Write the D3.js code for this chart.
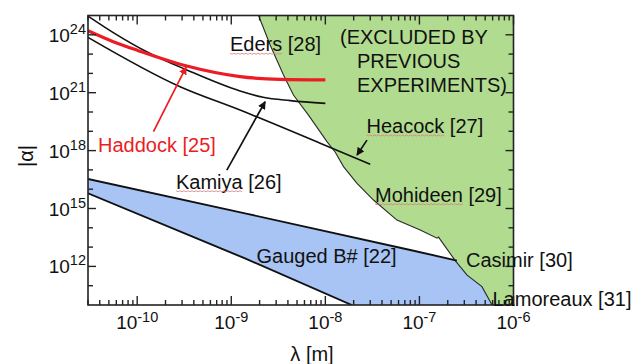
<!DOCTYPE html>
<html><head><meta charset="utf-8">
<script src="https://cdn.jsdelivr.net/npm/d3@7/dist/d3.min.js"></script>
<style>
body{margin:0;background:#fff}
svg{display:block}
text{font-family:"Liberation Sans",Arial,Helvetica,sans-serif;fill:#111}
</style>
</head><body>
<svg id="chart" width="634" height="364"></svg>
<script>
// ---------- data ----------
const xDomain = [3e-11, 1e-6];      // lambda [m]
const yDomain = [1e10, 1e25];       // |alpha|
const xTickLabels = [1e-10, 1e-9, 1e-8, 1e-7, 1e-6];
const yTickLabels = [1e12, 1e15, 1e18, 1e21, 1e24];

const haddockLambda = [3e-11, 5.57e-11, 1.03e-10, 3.37e-10, 1.24e-9, 3.31e-9, 1e-8];
const haddockAlpha  = [1.62e24, 4.4e23, 1.51e23, 2.4e22, 6.8e21, 4.9e21, 4.6e21];

const kamiyaLambda = [3e-11, 5.57e-11, 1.26e-10, 3.37e-10, 1.24e-9, 2.18e-9, 4.23e-9, 1e-8];
const kamiyaAlpha  = [9.3e24, 1.29e24, 1.32e23, 1.51e22, 1.23e21, 5.8e20, 3.9e20, 2.8e20];

const heacockLambda = [3e-11, 2.86e-10, 1.24e-9, 8.81e-9, 3.0e-8];
const heacockAlpha  = [7.4e23, 2.04e21, 1.26e20, 2.4e18, 1.95e17];

// boundary of the region excluded by previous experiments (Eders/Mohideen/Casimir/Lamoreaux)
const excludedLambda = [1.95e-9, 2.59e-9, 3.59e-9, 4.58e-9, 6.62e-9, 1.04e-8, 1.27e-8, 1.56e-8,
                        2.17e-8, 3.25e-8, 5.77e-8, 1.02e-7, 1.54e-7, 1.60e-7, 1.66e-7, 2.40e-7,
                        3.21e-7, 4.62e-7, 5.92e-7];
const excludedAlpha  = [1e25, 2.95e23, 8.3e21, 7.6e20, 6.9e19, 2.9e18, 8.5e17, 1.48e17,
                        2.0e16, 2.75e15, 2.5e14, 7.8e13, 2.9e13, 3.3e13, 2.5e13, 2.0e12,
                        3.5e11, 8.9e10, 1e10];

// gauged B# band
const gaugedUpperLambda = [3e-11, 1.40e-9, 8.0e-8, 2.5e-7];
const gaugedUpperAlpha  = [3.4e16, 5.6e14, 7.1e12, 2.0e12];
const gaugedLowerLambda = [3e-11, 1.40e-9, 1.91e-8];
const gaugedLowerAlpha  = [6.1e15, 2.6e12, 1e10];

// arrows: [fromLambda, fromAlpha, toLambda, toAlpha]
const haddockArrow = [1.49e-10, 9.5e18, 3.31e-10, 2.1e22];
const kamiyaArrow  = [8.97e-10, 9.8e16, 2.29e-9, 3.4e20];
const heacockArrow = [2.77e-8, 3.5e18, 2.17e-8, 5.9e17];

// ---------- layout ----------
const P = {l: 88, r: 513.5, t: 15.5, b: 305};
const RED = "#ec1c24", GREEN = "#b1dc8f", BLUE = "#a7c4f4";

const svg = d3.select("#chart");
const x = d3.scaleLog().domain(xDomain).range([P.l, P.r]);
const y = d3.scaleLog().domain(yDomain).range([P.b, P.t]);
const zip = (a, b) => a.map((v, i) => [v, b[i]]);
const line = d3.line().x(d => x(d[0])).y(d => y(d[1]));

svg.append("clipPath").attr("id", "plotclip").append("rect")
  .attr("x", P.l).attr("y", P.t).attr("width", P.r - P.l).attr("height", P.b - P.t);
const g = svg.append("g").attr("clip-path", "url(#plotclip)");

// blue band (extended to the right, the excluded region covers the excess)
const up = zip(gaugedUpperLambda, gaugedUpperAlpha);
const lo = zip(gaugedLowerLambda, gaugedLowerAlpha);
const bandPoly = up.concat([[xDomain[1], gaugedUpperAlpha[gaugedUpperAlpha.length - 1]],
                            [xDomain[1], yDomain[0]]], lo.slice().reverse());
g.append("path").attr("d", line(bandPoly) + "Z").attr("fill", BLUE).attr("stroke", "none");

// green excluded region
const ex = zip(excludedLambda, excludedAlpha);
const exPoly = ex.concat([[xDomain[1], yDomain[0]], [xDomain[1], yDomain[1]]]);
g.append("path").attr("d", line(exPoly) + "Z").attr("fill", GREEN).attr("stroke", "none");
g.append("path").attr("d", line(ex)).attr("fill", "none").attr("stroke", "#2a2a2a").attr("stroke-width", 1.1);

// band edges
g.append("path").attr("d", line(up)).attr("fill", "none").attr("stroke", "#111").attr("stroke-width", 1.9);
g.append("path").attr("d", line(lo)).attr("fill", "none").attr("stroke", "#111").attr("stroke-width", 1.9);

// curves
const curve = d3.line().x(d => x(d[0])).y(d => y(d[1])).curve(d3.curveMonotoneX);
g.append("path").attr("d", curve(zip(kamiyaLambda, kamiyaAlpha))).attr("fill", "none").attr("stroke", "#111").attr("stroke-width", 1.6);
g.append("path").attr("d", curve(zip(heacockLambda, heacockAlpha))).attr("fill", "none").attr("stroke", "#111").attr("stroke-width", 1.6);
g.append("path").attr("d", curve(zip(haddockLambda, haddockAlpha))).attr("fill", "none").attr("stroke", RED).attr("stroke-width", 3.2);

// arrow markers
const defs = svg.append("defs");
function marker(id, color) {
  defs.append("marker").attr("id", id).attr("viewBox", "0 0 10 10").attr("refX", 9).attr("refY", 5)
    .attr("markerWidth", 8).attr("markerHeight", 8).attr("markerUnits", "userSpaceOnUse")
    .attr("orient", "auto").append("path").attr("d", "M0,0L10,5L0,10Z").attr("fill", color);
}
marker("ah-red", RED); marker("ah-black", "#111");
function arrow(a, color, id) {
  svg.append("line").attr("x1", x(a[0])).attr("y1", y(a[1])).attr("x2", x(a[2])).attr("y2", y(a[3]))
    .attr("stroke", color).attr("stroke-width", 1.7).attr("marker-end", `url(#${id})`);
}
arrow(haddockArrow, RED, "ah-red");
arrow(kamiyaArrow, "#111", "ah-black");
arrow(heacockArrow, "#111", "ah-black");

// ---------- frame & ticks ----------
svg.append("rect").attr("x", P.l).attr("y", P.t).attr("width", P.r - P.l).attr("height", P.b - P.t)
  .attr("fill", "none").attr("stroke", "#222").attr("stroke-width", 1.6);

const ticksG = svg.append("g").attr("stroke", "#222").attr("stroke-width", 1.4);
const minLx = Math.floor(Math.log10(xDomain[0])), maxLx = Math.ceil(Math.log10(xDomain[1]));
for (let e = minLx; e <= maxLx; e++) {
  for (let k = 1; k <= 9; k++) {
    const v = k * Math.pow(10, e);
    if (v < xDomain[0] * 0.999 || v > xDomain[1] * 1.001) continue;
    const px = x(v), len = k === 1 ? 9 : 5;
    ticksG.append("line").attr("x1", px).attr("x2", px).attr("y1", P.b).attr("y2", P.b - len);
    ticksG.append("line").attr("x1", px).attr("x2", px).attr("y1", P.t).attr("y2", P.t + len);
  }
}
const minLy = Math.log10(yDomain[0]), maxLy = Math.log10(yDomain[1]);
for (let e = minLy + 1; e < maxLy; e++) {
  const v = Math.pow(10, e), py = y(v);
  const len = yTickLabels.includes(v) ? 8 : 5;
  ticksG.append("line").attr("x1", P.l).attr("x2", P.l + len).attr("y1", py).attr("y2", py);
  ticksG.append("line").attr("x1", P.r).attr("x2", P.r - len).attr("y1", py).attr("y2", py);
}

// tick labels
xTickLabels.forEach(v => {
  const t = svg.append("text").attr("x", x(v)).attr("y", 329).attr("text-anchor", "middle").attr("font-size", 19);
  t.append("tspan").text("10");
  t.append("tspan").attr("dy", -7).attr("font-size", 14.5).text(String(Math.round(Math.log10(v))));
});
yTickLabels.forEach(v => {
  const t = svg.append("text").attr("x", 86).attr("y", y(v) + 7).attr("text-anchor", "end").attr("font-size", 19);
  t.append("tspan").text("10");
  t.append("tspan").attr("dy", -8).attr("font-size", 14.5).text(String(Math.round(Math.log10(v))));
});

// axis titles
svg.append("text").attr("x", 312).attr("y", 361).attr("text-anchor", "middle").attr("font-size", 20).text("λ [m]");
svg.append("text").attr("transform", "translate(33,156) rotate(-90)").attr("text-anchor", "middle")
  .attr("font-size", 20).text("|α|");

// ---------- annotation labels ----------
const labels = [
  {t: "Eders [28]", x: 230, y: 51, u: 5},
  {t: "(EXCLUDED BY", x: 340, y: 44},
  {t: "PREVIOUS", x: 357, y: 68},
  {t: "EXPERIMENTS)", x: 357, y: 92},
  {t: "Haddock [25]", x: 98, y: 151.5, c: RED},
  {t: "Heacock [27]", x: 366.5, y: 132.7, u: 7},
  {t: "Kamiya [26]", x: 176, y: 188.5, u: 6},
  {t: "Mohideen [29]", x: 375, y: 201.5, u: 8},
  {t: "Gauged B# [22]", x: 256.5, y: 262.5},
  {t: "Casimir [30]", x: 466, y: 267},
  {t: "Lamoreaux [31]", x: 492.5, y: 306}
];
labels.forEach(d => {
  const t = svg.append("text").attr("x", d.x).attr("y", d.y).attr("font-size", 20)
    .style("fill", d.c || "#111").text(d.t);
  if (d.u) {
    const w = t.node().getSubStringLength(0, d.u);
    const pts = [];
    for (let i = 0; i <= Math.round(w / 2); i++) pts.push([d.x + i * 2, d.y + 2.5 + (i % 2 ? 0.8 : -0.3)]);
    svg.append("path").attr("d", d3.line()(pts)).attr("fill", "none").attr("stroke", "#e07b7b").attr("stroke-width", 0.8);
  }
});
</script>
</body></html>
